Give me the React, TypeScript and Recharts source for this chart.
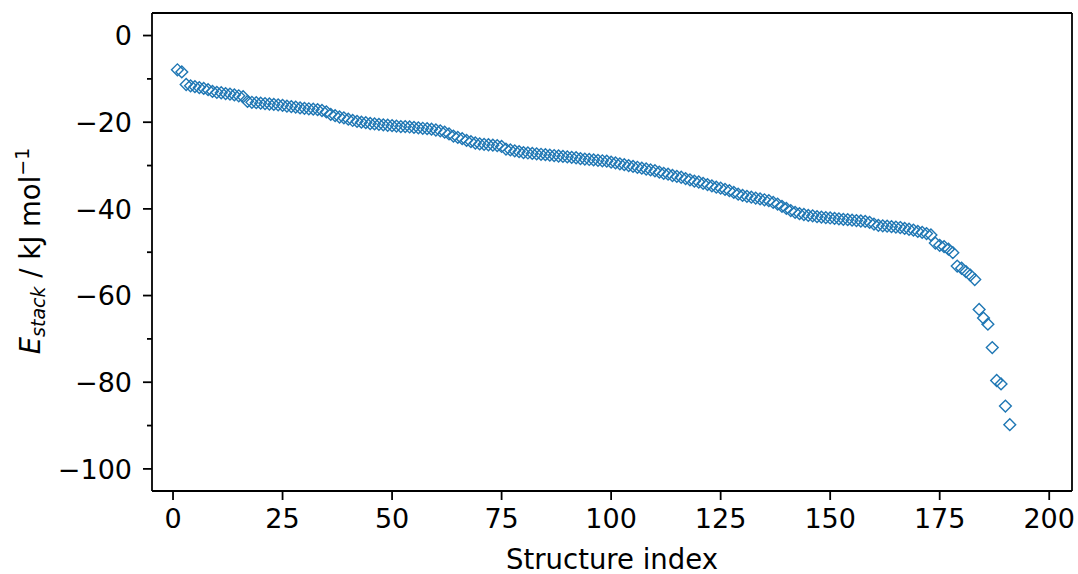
import React from 'react';
import { ScatterChart, Scatter, XAxis, YAxis, ReferenceLine } from 'recharts';

// Stacking energies (kJ/mol) for structures 1..191, sorted
const energies: number[] = [
  -7.9, -8.4, -11.3, -11.6, -11.8, -12.0, -12.2, -12.5, -12.9, -13.1,
  -13.2, -13.4, -13.5, -13.7, -13.9, -14.1, -15.2, -15.4, -15.5, -15.6,
  -15.7, -15.8, -15.9, -16.0, -16.1, -16.3, -16.4, -16.5, -16.7, -16.8,
  -16.9, -17.0, -17.1, -17.3, -17.6, -18.2, -18.5, -18.8, -19.0, -19.3,
  -19.6, -19.8, -20.0, -20.1, -20.3, -20.4, -20.5, -20.6, -20.7, -20.8,
  -20.9, -21.0, -21.0, -21.1, -21.2, -21.3, -21.4, -21.5, -21.6, -21.8,
  -22.0, -22.3, -22.7, -23.2, -23.5, -23.8, -24.2, -24.5, -24.8, -25.0,
  -25.1, -25.2, -25.3, -25.4, -25.6, -26.2, -26.4, -26.6, -26.8, -27.0,
  -27.1, -27.2, -27.3, -27.4, -27.5, -27.6, -27.7, -27.8, -27.9, -28.0,
  -28.1, -28.2, -28.4, -28.5, -28.6, -28.7, -28.8, -28.9, -29.0, -29.2,
  -29.4, -29.6, -29.8, -30.0, -30.2, -30.4, -30.6, -30.8, -31.0, -31.2,
  -31.5, -31.8, -32.0, -32.3, -32.5, -32.7, -33.0, -33.3, -33.6, -33.8,
  -34.1, -34.4, -34.7, -35.0, -35.2, -35.5, -35.8, -36.2, -36.6, -36.9,
  -37.1, -37.3, -37.5, -37.7, -37.9, -38.1, -38.5, -38.9, -39.4, -39.9,
  -40.4, -40.8, -41.1, -41.3, -41.5, -41.6, -41.8, -41.9, -42.0, -42.1,
  -42.2, -42.3, -42.4, -42.5, -42.6, -42.7, -42.8, -42.9, -43.1, -43.5,
  -43.8, -43.9, -44.0, -44.1, -44.2, -44.3, -44.5, -44.7, -44.9, -45.2,
  -45.4, -45.7, -46.0, -47.9, -48.4, -48.7, -49.3, -50.1, -53.2, -53.7,
  -54.5, -55.3, -56.3, -63.2, -65.2, -66.6, -72.0, -79.6, -80.4, -85.5,
  -89.8,
];

const xTicks: number[] = [0, 25, 50, 75, 100, 125, 150, 175, 200];
const yTicks: number[] = [-100, -90, -80, -70, -60, -50, -40, -30, -20, -10, 0];
const xDomain: [number, number] = [-4.8, 205.2];
const yDomain: [number, number] = [-105.1, 5.2];

const data = energies.map((e, i) => ({ index: i + 1, energy: e }));

const FONT = "'DejaVu Sans', sans-serif";
const COLOR = '#1f77b4';
const TICK_FS = 27;
const LABEL_FS = 27.5;
const fmt = (v: number) => (v < 0 ? '\u2212' + Math.abs(v) : String(v));

const Diamond = (props: any) => {
  const { cx, cy } = props;
  if (cx == null || cy == null) return null;
  const r = 5.9;
  return (
    <polygon
      points={`${cx},${cy - r} ${cx + r},${cy} ${cx},${cy + r} ${cx - r},${cy}`}
      fill="none"
      stroke={COLOR}
      strokeWidth={1.4}
    />
  );
};

const YTick = (props: any) => {
  const { x, y, payload } = props;
  const v = payload.value;
  const major = v % 20 === 0;
  return (
    <g>
      <line x1={x - (major ? 9 : 5)} x2={x} y1={y} y2={y} stroke="#000" strokeWidth={1.8} />
      {major && (
        <text x={x - 20} y={y} dy="0.36em" textAnchor="end" fontFamily={FONT} fontSize={TICK_FS} fill="#000">
          {fmt(v)}
        </text>
      )}
    </g>
  );
};

const XTick = (props: any) => {
  const { x, y, payload } = props;
  return (
    <text x={x} y={y} dy="0.72em" textAnchor="middle" fontFamily={FONT} fontSize={TICK_FS} fill="#000">
      {fmt(payload.value)}
    </text>
  );
};

export default function App() {
  return (
    <div style={{ position: 'fixed', left: 0, top: 0, width: 1078, height: 574, background: '#fff' }}>
      <ScatterChart
        width={1078}
        height={574}
        margin={{ top: 13, right: 6, left: 8, bottom: 0 }}
      >
        <XAxis
          type="number"
          dataKey="index"
          domain={xDomain}
          allowDataOverflow
          ticks={xTicks}
          interval={0}
          height={83}
          tickSize={9}
          tickMargin={9}
          tick={<XTick />}
          axisLine={{ stroke: '#000', strokeWidth: 1.8 }}
          tickLine={{ stroke: '#000', strokeWidth: 1.8 }}
          label={{
            content: () => (
              <text x={612} y={569} textAnchor="middle" fontFamily={FONT} fontSize={LABEL_FS} fill="#000">
                Structure index
              </text>
            ),
          }}
        />
        <YAxis
          type="number"
          dataKey="energy"
          domain={yDomain}
          allowDataOverflow
          ticks={yTicks}
          interval={0}
          width={144}
          tickSize={0}
          tickMargin={0}
          tick={<YTick />}
          tickLine={false}
          axisLine={{ stroke: '#000', strokeWidth: 1.8 }}
          label={{
            content: () => (
              <text
                transform="translate(40,251) rotate(-90)"
                x={0}
                y={0}
                textAnchor="middle"
                fontFamily={FONT}
                fontSize={LABEL_FS}
                fill="#000"
              >
                <tspan fontStyle="italic">E</tspan>
                <tspan fontStyle="italic" fontSize={19} dy={5}>stack</tspan>
                <tspan dy={-5}> / kJ mol</tspan>
                <tspan fontSize={19} dy={-11}>{'\u22121'}</tspan>
              </text>
            ),
          }}
        />
        <ReferenceLine y={yDomain[1]} stroke="#000" strokeWidth={1.8} ifOverflow="visible" />
        <ReferenceLine x={xDomain[1]} stroke="#000" strokeWidth={1.8} ifOverflow="visible" />
        <Scatter data={data} shape={<Diamond />} isAnimationActive={false} />
      </ScatterChart>
    </div>
  );
}
